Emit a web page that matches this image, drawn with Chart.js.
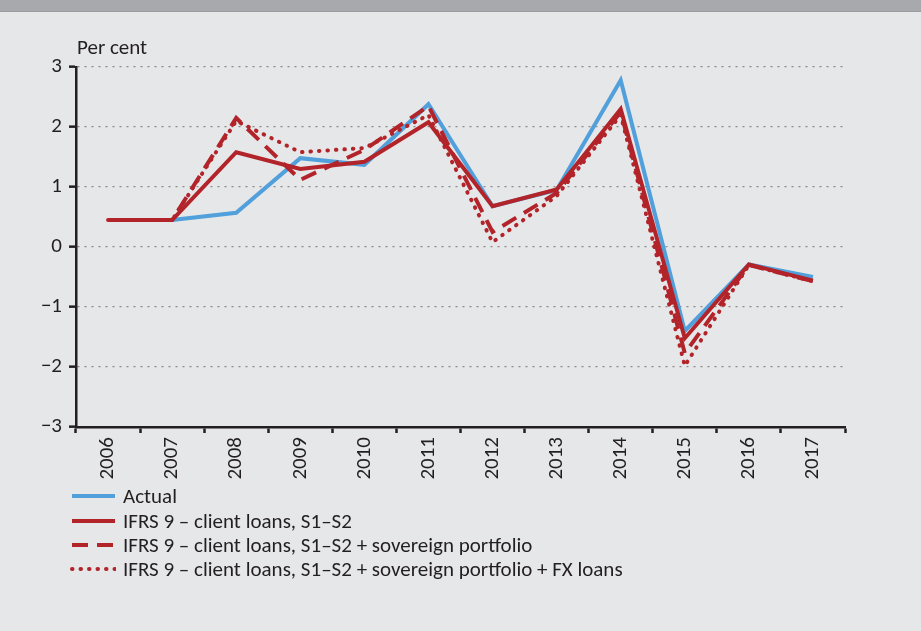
<!DOCTYPE html>
<html>
<head>
<meta charset="utf-8">
<script src="https://cdn.jsdelivr.net/npm/chart.js@4"></script>
<style>
  html, body { margin:0; padding:0; background:#E6E7E9; }
  #wrap { position:relative; width:921px; height:631px; overflow:hidden; background:#E6E7E9; font-family: Carlito, Lato, sans-serif; color:#231F20; }
  #hdr { position:absolute; left:0; top:0; width:921px; height:11px; background:#A7A9AC; border-bottom:1px solid #9A9C9F; }
  #unit { position:absolute; left:77px; top:34px; font-size:21px; line-height:26px; }
  #legend { position:absolute; left:70px; top:484px; font-size:21px; }
  .row { height:24.4px; display:flex; align-items:center; }
  .row svg { margin-right:7px; }
  canvas { position:absolute; left:0; top:0; }
</style>
</head>
<body>
<div id="wrap">
  <canvas id="c" width="921" height="631"></canvas>
  <div id="hdr"></div>
  <div id="unit">Per cent</div>
  <div id="legend"></div>
</div>
<script>
const years = ['2006','2007','2008','2009','2010','2011','2012','2013','2014','2015','2016','2017'];
const yTicks = [-3,-2,-1,0,1,2,3];
const actual    = [0.45, 0.45, 0.57, 1.48, 1.37, 2.38, 0.68, 0.95, 2.78, -1.40, -0.29, -0.50];
const ifrsLoans = [0.45, 0.45, 1.58, 1.30, 1.42, 2.08, 0.68, 0.96, 2.30, -1.52, -0.29, -0.56];
const ifrsSov   = [0.45, 0.45, 2.15, 1.12, 1.62, 2.35, 0.25, 0.90, 2.25, -1.77, -0.30, -0.57];
const ifrsSovFx = [0.45, 0.45, 2.10, 1.58, 1.65, 2.20, 0.08, 0.85, 2.20, -1.98, -0.30, -0.57];
const seriesNames = ['Actual', 'IFRS 9 – client loans, S1–S2', 'IFRS 9 – client loans, S1–S2 + sovereign portfolio', 'IFRS 9 – client loans, S1–S2 + sovereign portfolio + FX loans'];

const BLUE = '#519FDB', RED = '#B22429';
const FONT = 'Carlito, Lato, sans-serif';

const datasets = [
  { label: seriesNames[0], data: actual, borderColor: BLUE, borderWidth: 4, order: 4, dash: [] },
  { label: seriesNames[1], data: ifrsLoans, borderColor: RED, borderWidth: 4, order: 3, dash: [] },
  { label: seriesNames[2], data: ifrsSov, borderColor: RED, borderWidth: 4, order: 2, borderDash: [16, 9], dash: [16, 9] },
  { label: seriesNames[3], data: ifrsSovFx, borderColor: RED, borderWidth: 4, order: 1, borderDash: [0.5, 8], borderCapStyle: 'round', dash: [0.5, 8], cap: 'round' }
].map(d => Object.assign({ pointRadius: 0, tension: 0, fill: false, borderJoinStyle: 'miter' }, d));

const chart = new Chart(document.getElementById('c'), {
  type: 'line',
  data: { labels: years, datasets },
  options: {
    responsive: false,
    animation: false,
    devicePixelRatio: 1,
    layout: { padding: { top: 67, right: 76, left: 0, bottom: 0 } },
    plugins: { legend: { display: false }, tooltip: { enabled: false } },
    scales: {
      x: {
        offset: true,
        grid: { offset: true, color: 'rgba(0,0,0,0)', tickColor: '#231F20', tickWidth: 2.5, tickLength: 6, drawOnChartArea: false },
        border: { color: '#231F20', width: 2.5 },
        ticks: { minRotation: 90, maxRotation: 90, padding: 4, color: '#231F20', font: { family: FONT, size: 21 } },
        afterFit: s => { s.height = 204; }
      },
      y: {
        min: -3, max: 3,
        afterBuildTicks: s => { s.ticks = yTicks.map(v => ({ value: v })); },
        grid: { color: '#8A8A8A', lineWidth: 1.3, tickColor: '#231F20', tickWidth: 2.5, tickLength: 7, tickBorderDash: [] },
        border: { color: '#231F20', width: 2.5, dash: [2, 5] },
        ticks: { padding: 7, color: '#231F20', font: { family: FONT, size: 21 }, callback: v => (v < 0 ? '\u2212' + Math.abs(v) : String(v)) },
        afterFit: s => { s.width = 76; }
      }
    }
  }
});

// HTML legend built from chart datasets
const leg = document.getElementById('legend');
chart.data.datasets.forEach(ds => {
  const row = document.createElement('div');
  row.className = 'row';
  const dash = (ds.dash || []).join(' ');
  row.innerHTML = '<svg width="46" height="10"><line x1="2" y1="5" x2="45" y2="5" stroke="' + ds.borderColor +
    '" stroke-width="4" stroke-linecap="' + (ds.cap || 'butt') + '"' + (dash ? ' stroke-dasharray="' + dash + '"' : '') + '/></svg>';
  const span = document.createElement('span');
  span.textContent = ds.label;
  row.appendChild(span);
  leg.appendChild(row);
});
</script>
</body>
</html>
